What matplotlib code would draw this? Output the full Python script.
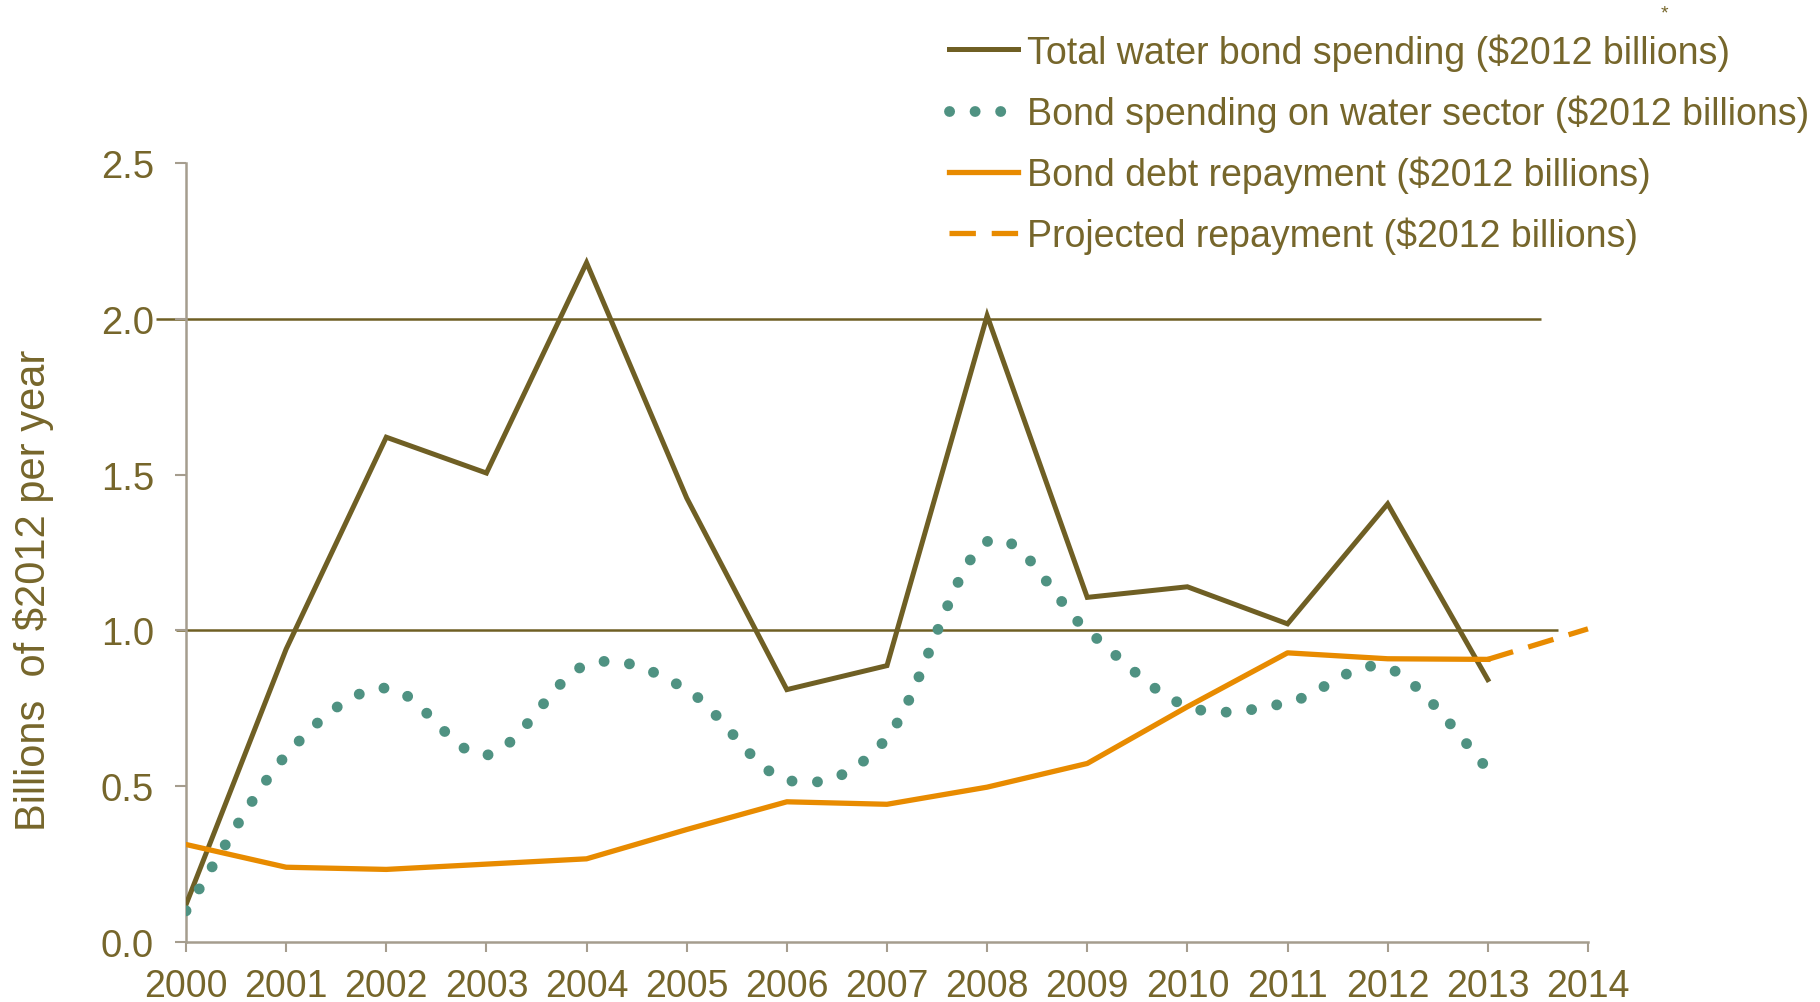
import matplotlib
matplotlib.use("Agg")
import matplotlib.pyplot as plt
from matplotlib.path import Path
from matplotlib.patches import PathPatch
from matplotlib.lines import Line2D

plt.rcParams['font.family'] = ['Liberation Sans', 'DejaVu Sans']

years = list(range(2000, 2014))
total_spending = [0.12, 0.94, 1.62, 1.505, 2.18, 1.425, 0.81, 0.887, 2.01, 1.106, 1.14, 1.021, 1.406, 0.842]
water_sector = [0.10, 0.60, 0.815, 0.60, 0.89, 0.81, 0.52, 0.655, 1.285, 1.0, 0.756, 0.768, 0.88, 0.555]
repayment = [0.313, 0.24, 0.233, 0.25, 0.267, 0.361, 0.45, 0.442, 0.497, 0.573, 0.755, 0.928, 0.909, 0.907]
proj_years = [2013, 2014]
proj_repayment = [0.907, 1.005]

labels = ['Total water bond spending ($2012 billions)',
          'Bond spending on water sector ($2012 billions)',
          'Bond debt repayment ($2012 billions)',
          'Projected repayment ($2012 billions)']

OLIVE = '#6f5f24'
TEXT = '#76662b'
TEAL = '#4f9282'
ORANGE = '#e88b00'
GREY = '#a59d8e'


def smooth_path(xs, ys):
    # cubic bezier through every point (catmull-rom style control points)
    pts = list(zip(xs, ys))
    n = len(pts)
    verts = [pts[0]]
    codes = [Path.MOVETO]
    for i in range(n - 1):
        p0 = pts[max(i - 1, 0)]
        p1 = pts[i]
        p2 = pts[i + 1]
        p3 = pts[min(i + 2, n - 1)]
        c1 = (p1[0] + (p2[0] - p0[0]) / 6, p1[1] + (p2[1] - p0[1]) / 6)
        c2 = (p2[0] - (p3[0] - p1[0]) / 6, p2[1] - (p3[1] - p1[1]) / 6)
        verts += [c1, c2, p2]
        codes += [Path.CURVE4] * 3
    return Path(verts, codes)


fig = plt.figure(figsize=(18.2, 10.03), dpi=100)
ax = fig.add_axes([0.1022, 0.0598, 0.7703, 0.7767])

# the two horizontal reference lines
ax.hlines(2.0, 1999.7, 2013.53, color=OLIVE, lw=1.8, zorder=1, clip_on=False)
ax.hlines(1.0, 1999.9, 2013.7, color=OLIVE, lw=1.8, zorder=1, clip_on=False)

ax.plot(years, total_spending, color=OLIVE, lw=3.6, zorder=3, solid_joinstyle='miter')

dot_lw = 7.8
dots = (0, (0.01, 2.35))
patch = PathPatch(smooth_path(years, water_sector), fill=False, edgecolor=TEAL,
                  lw=dot_lw, linestyle=dots, capstyle='round', zorder=4)
ax.add_patch(patch)

ax.plot(years, repayment, color=ORANGE, lw=3.8, zorder=5)
ax.plot(proj_years, proj_repayment, color=ORANGE, lw=3.8, linestyle=(0, (5, 3)),
        dash_capstyle='butt', zorder=5, clip_on=False)

ax.set_xlim(2000, 2014)
ax.set_ylim(0, 2.5)
ax.set_xticks(range(2000, 2015))
ax.set_yticks([0, 0.5, 1.0, 1.5, 2.0, 2.5])
ax.set_yticklabels(['0.0', '0.5', '1.0', '1.5', '2.0', '2.5'])

for s in ['top', 'right']:
    ax.spines[s].set_visible(False)
for s in ['left', 'bottom']:
    ax.spines[s].set_color(GREY)
    ax.spines[s].set_linewidth(1.8)

ax.tick_params(axis='x', direction='out', length=7.5, width=1.5, color=GREY,
               labelsize=27, labelcolor=TEXT, pad=11)
ax.tick_params(axis='y', direction='out', length=8, width=1.5, color=GREY,
               labelsize=27.5, labelcolor=TEXT, pad=15)

fig.text(0.0185, 0.411, 'Billions  of $2012 per year', rotation=90, ha='center',
         va='center', fontsize=30, color=TEXT)

handles = [
    Line2D([], [], color=OLIVE, lw=3.6),
    Line2D([], [], color=TEAL, lw=dot_lw, linestyle=dots, dash_capstyle='round'),
    Line2D([], [], color=ORANGE, lw=3.8),
    Line2D([], [], color=ORANGE, lw=3.8, linestyle=(0, (5, 3)), dash_capstyle='butt'),
]
fig.legend(handles, labels, loc='upper left', bbox_to_anchor=(949 / 1820, 0.966),
           frameon=False, fontsize=27, labelcolor=TEXT, handlelength=1.85,
           handletextpad=0.22, labelspacing=0.63, borderpad=0, borderaxespad=0)

fig.text(1664 / 1820, 1 - 14 / 1003, '*', fontsize=14, ha='center', va='center', color=TEXT)

fig.savefig('out.png', dpi=100)
